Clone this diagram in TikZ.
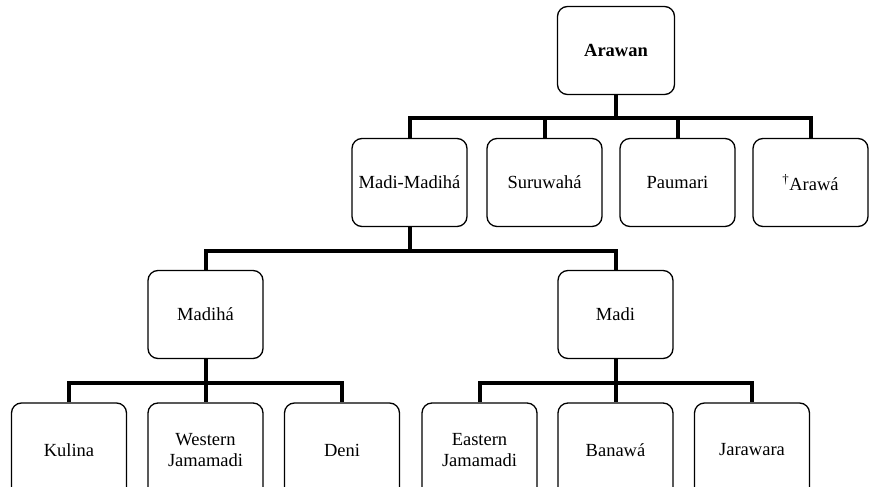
\documentclass[tikz,border=0pt]{standalone}
\usepackage{fontspec}
\setmainfont{Liberation Serif}
\usepackage{tikz}
\usetikzlibrary{calc, positioning}

\tikzset{
    lang/.style={draw, rounded corners=10pt, line width=1.3pt, align=center,
        minimum width=115pt, minimum height=88pt, inner sep=2pt,
        font=\fontsize{18.5}{21}\selectfont},
    tree/.style={line width=4pt}
}

\begin{document}
\begin{tikzpicture}[x=1pt, y=-1pt]
    \useasboundingbox (0,0) rectangle (873,487);

    % Root
    \node[lang, minimum width=117pt] (arawan) at (616,50.5) {\textbf{Arawan}};

    % Second level
    \node[lang] (madimadiha) at (409.5,182.5) {Madi-Madihá};
    \node[lang] (suruwaha) at (544.5,182.5) {Suruwahá};
    \node[lang] (paumari) at (677.5,182.5) {Paumari};
    \node[lang] (arawa) at (810.5,182.5) {\textsuperscript{\dag}Arawá};

    % Third level
    \node[lang] (madiha) at (205.5,314.5) {Madihá};
    \node[lang] (madi) at (615.5,314.5) {Madi};

    % Leaves
    \node[lang, minimum height=94pt] (kulina) at (69,450) {Kulina};
    \node[lang, minimum height=94pt] (wjamamadi) at (205.5,450) {Western\\Jamamadi};
    \node[lang, minimum height=94pt] (deni) at (342,450) {Deni};
    \node[lang, minimum height=94pt] (ejamamadi) at (479.5,450) {Eastern\\Jamamadi};
    \node[lang, minimum height=94pt] (banawa) at (615.5,450) {Banawá};
    \node[lang, minimum height=94pt] (jarawara) at (752,450) {Jarawara};

    % Bar heights
    \coordinate (barA) at (0,118);
    \coordinate (barB) at (0,251);
    \coordinate (barC) at (0,383);

    % Arawan branches
    \draw[tree] (arawan.south) -- (arawan.south |- barA);
    \draw[tree] (madimadiha.north) -- (madimadiha.north |- barA) -- (arawa.north |- barA) -- (arawa.north);
    \draw[tree] (suruwaha.north) -- (suruwaha.north |- barA);
    \draw[tree] (paumari.north) -- (paumari.north |- barA);

    % Madi-Madiha branches
    \draw[tree] (madimadiha.south) -- (madimadiha.south |- barB);
    \draw[tree] (madiha.north) -- (madiha.north |- barB) -- (madi.north |- barB) -- (madi.north);

    % Madiha branches
    \draw[tree] (madiha.south) -- (wjamamadi.north);
    \draw[tree] (kulina.north) -- (kulina.north |- barC) -- (deni.north |- barC) -- (deni.north);

    % Madi branches
    \draw[tree] (madi.south) -- (banawa.north);
    \draw[tree] (ejamamadi.north) -- (ejamamadi.north |- barC) -- (jarawara.north |- barC) -- (jarawara.north);
\end{tikzpicture}
\end{document}
